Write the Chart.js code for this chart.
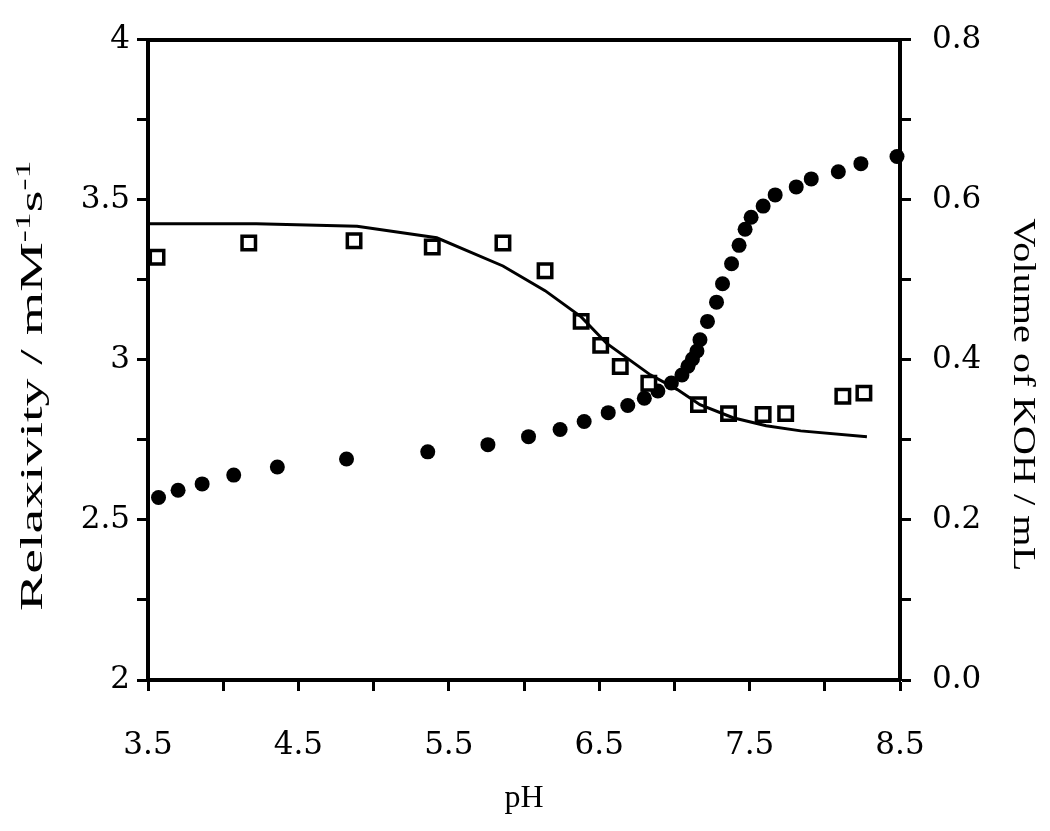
<!DOCTYPE html>
<html>
    <head>
        <title>Relaxivity - pH</title>
        <meta http-equiv="Content-Type" content="text/html; charset=UTF-8">
        <script src="https://cdn.jsdelivr.net/npm/chart.js"></script>
        <style>
            body { margin: 0; background: #fff; }
        </style>
    </head>
    <body>
        <canvas id="graphe" width="1050" height="831"></canvas>

        <script>
            // relaxivity measurements (open squares, left axis)
            const phRelax = [3.56, 4.17, 4.87, 5.39, 5.86, 6.14, 6.38, 6.51, 6.64, 6.83, 7.16, 7.36, 7.59, 7.74, 8.12, 8.26];
            const relaxivity = [3.32, 3.365, 3.372, 3.352, 3.365, 3.278, 3.12, 3.045, 2.979, 2.927, 2.86, 2.832, 2.829, 2.832, 2.886, 2.896];

            // fitted curve (left axis)
            const phFit = [3.5, 4.22, 4.89, 5.42, 5.86, 6.14, 6.38, 6.55, 6.84, 7.02, 7.17, 7.39, 7.61, 7.84, 8.28];
            const relaxFit = [3.425, 3.425, 3.417, 3.381, 3.293, 3.216, 3.134, 3.051, 2.953, 2.907, 2.86, 2.819, 2.794, 2.778, 2.76];

            // titration curve (filled circles, right axis)
            const phKoh = [3.57, 3.70, 3.86, 4.07, 4.36, 4.82, 5.36, 5.76, 6.03, 6.24, 6.40, 6.56, 6.69, 6.80, 6.89, 6.98, 7.05, 7.09, 7.12, 7.15, 7.17, 7.22, 7.28, 7.32, 7.38, 7.43, 7.47, 7.51, 7.59, 7.67, 7.81, 7.91, 8.09, 8.24, 8.48];
            const volKoh = [0.228, 0.237, 0.245, 0.256, 0.266, 0.276, 0.285, 0.294, 0.304, 0.313, 0.323, 0.334, 0.343, 0.352, 0.361, 0.371, 0.381, 0.392, 0.401, 0.411, 0.425, 0.448, 0.472, 0.495, 0.52, 0.543, 0.563, 0.578, 0.592, 0.606, 0.616, 0.626, 0.635, 0.645, 0.654];

            // tick labels (the other ticks are drawn without text)
            const xLabels = [3.5, 4.5, 5.5, 6.5, 7.5, 8.5];
            const yLeftLabels = [2, 2.5, 3, 3.5, 4];
            const yRightLabels = [0, 0.2, 0.4, 0.6, 0.8];

            function pairs(xs, ys) {
                return xs.map(function (x, i) { return {x: x, y: ys[i]}; });
            }

            function labelFor(list, value, digits) {
                for (let v of list) {
                    if (Math.abs(v - value) < 1e-6) {
                        return digits === undefined ? String(v) : v.toFixed(digits);
                    }
                }
                return '';
            }

            const tickFont = {family: 'DejaVu Serif', size: 31};
            const titleFont = "31px 'Liberation Serif'";
            const supFont = "20px 'Liberation Serif'";

            function axe(extra) {
                return Object.assign({
                    type: 'linear',
                    border: {color: '#000', width: 4},
                    grid: {drawOnChartArea: false, color: '#000', tickColor: '#000', tickLength: 11, tickWidth: 3},
                }, extra);
            }

            // titres des axes verticaux, avec exposants (texte étiré dans le sens de la lecture)
            const titresAxes = {
                id: 'titresAxes',
                afterDraw: function (chart) {
                    const ctx = chart.ctx;
                    const yl = chart.scales.y;
                    const yr = chart.scales.y2;
                    const milieu = (yl.top + yl.bottom) / 2;

                    const parts = [
                        {t: 'Relaxivity / mM', sup: false},
                        {t: '-1', sup: true},
                        {t: 's', sup: false},
                        {t: '-1', sup: true}
                    ];
                    ctx.save();
                    ctx.fillStyle = '#000';
                    ctx.textBaseline = 'alphabetic';
                    let total = 0;
                    parts.forEach(function (p) {
                        ctx.font = p.sup ? supFont : titleFont;
                        p.w = ctx.measureText(p.t).width;
                        total += p.w;
                    });
                    ctx.translate(yl.left + 42, milieu + 26);
                    ctx.rotate(-Math.PI / 2);
                    ctx.scale(1.8, 1);
                    let x = -total / 2;
                    parts.forEach(function (p) {
                        ctx.font = p.sup ? supFont : titleFont;
                        ctx.fillText(p.t, x, p.sup ? -12 : 0);
                        x += p.w;
                    });
                    ctx.restore();

                    ctx.save();
                    ctx.fillStyle = '#000';
                    ctx.font = titleFont;
                    ctx.textAlign = 'center';
                    ctx.textBaseline = 'middle';
                    ctx.translate(yr.right - 28, milieu + 35);
                    ctx.rotate(Math.PI / 2);
                    ctx.scale(1.3, 1);
                    ctx.fillText('Volume of KOH / mL', 0, 0);
                    ctx.restore();
                }
            };

            const ctx = document.getElementById('graphe').getContext('2d');
            const chart = new Chart(ctx, {
                type: 'scatter',
                data: {
                    datasets: [
                        {
                            type: 'line',
                            data: pairs(phFit, relaxFit),
                            yAxisID: 'y',
                            borderColor: '#000',
                            borderWidth: 3,
                            pointRadius: 0,
                            tension: 0,
                            fill: false,
                            clip: false
                        },
                        {
                            data: pairs(phRelax, relaxivity),
                            yAxisID: 'y',
                            pointStyle: 'rect',
                            pointRadius: 9.5,
                            pointBorderWidth: 3.5,
                            pointBorderColor: '#000',
                            pointBackgroundColor: '#fff',
                            clip: false
                        },
                        {
                            data: pairs(phKoh, volKoh),
                            yAxisID: 'y2',
                            pointStyle: 'circle',
                            pointRadius: 7.5,
                            pointBorderWidth: 0,
                            pointBackgroundColor: '#000',
                            clip: false
                        }
                    ]
                },
                options: {
                    responsive: false,
                    animation: false,
                    devicePixelRatio: 1,
                    layout: {padding: 0},
                    plugins: {legend: {display: false}, tooltip: {enabled: false}},
                    scales: {
                        x: axe({
                            position: 'bottom',
                            min: 3.5, max: 8.5,
                            afterFit: function (s) { s.height = 151; },
                            ticks: {
                                stepSize: 0.5, autoSkip: false, maxRotation: 0, padding: 36,
                                color: '#000', font: tickFont,
                                callback: function (v) { return labelFor(xLabels, v, 1); }
                            },
                            title: {display: true, text: 'pH', color: '#000', font: {family: 'Liberation Serif', size: 32}, padding: {top: 0, bottom: 13}}
                        }),
                        xTop: axe({
                            position: 'top',
                            min: 3.5, max: 8.5,
                            afterFit: function (s) { s.height = 33; },
                            grid: {drawOnChartArea: false, drawTicks: false},
                            ticks: {display: false}
                        }),
                        y: axe({
                            position: 'left',
                            min: 2, max: 4,
                            afterFit: function (s) { s.width = 148; },
                            ticks: {
                                stepSize: 0.25, autoSkip: false, padding: 7,
                                color: '#000', font: tickFont,
                                callback: function (v) { return labelFor(yLeftLabels, v); }
                            }
                        }),
                        y2: axe({
                            position: 'right',
                            min: 0, max: 0.8,
                            afterFit: function (s) { s.width = 150; },
                            ticks: {
                                stepSize: 0.1, autoSkip: false, padding: 21,
                                color: '#000', font: tickFont,
                                callback: function (v) { return labelFor(yRightLabels, v, 1); }
                            }
                        })
                    }
                },
                plugins: [titresAxes]
            });
        </script>
    </body>
</html>
